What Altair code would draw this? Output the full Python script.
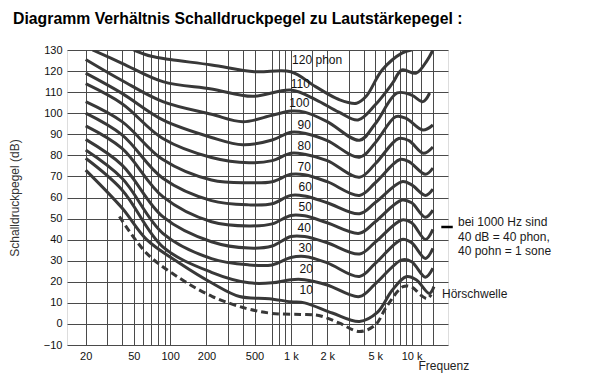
import altair as alt
import pandas as pd

# ---- data (frequency in Hz, level in dB) ----
f_120 = [50, 70, 100, 220, 500, 1000, 1600, 2500, 3500, 4200, 5700, 8300, 10000]
db_120 = [130, 127, 125.5, 122.9, 119.7, 119.7, 112.6, 106.5, 104.7, 108, 120.5, 128.5, 130]

f_110 = [22.8, 40, 87, 220, 480, 1000, 1600, 2500, 3600, 5000, 6900, 8300, 10900, 13400, 15000]
db_110 = [130, 123.7, 115, 111.5, 108, 111, 106.5, 100.5, 96.8, 104, 114, 120.5, 119, 125, 130]

f_100 = [20, 40, 87, 220, 400, 700, 1000, 1300, 2000, 3700, 5000, 7600, 10000, 12400, 14100]
db_100 = [125.5, 115.5, 105.5, 99.5, 96, 99, 101, 100.5, 96, 87.2, 95, 109.6, 108.6, 105.5, 109.6]

f_90 = [20, 40, 87, 220, 400, 700, 1000, 1300, 2000, 3700, 5000, 7400, 9000, 12400, 15000]
db_90 = [119, 109.4, 96.8, 88.5, 85, 87.3, 91, 90.5, 87, 79.1, 86, 98.4, 97.5, 92, 94.4]

f_80 = [20, 40, 87, 220, 450, 700, 1000, 1300, 2000, 3700, 5000, 7800, 9500, 12500, 15000]
db_80 = [114, 104.5, 88, 79, 76.5, 77.5, 81, 80.5, 77.5, 69.6, 76, 88, 87, 81, 84]

f_70 = [20, 40, 87, 220, 450, 700, 1000, 1300, 2000, 3700, 5000, 8000, 9500, 13000, 15000]
db_70 = [105.5, 96, 78, 68.3, 67, 67.5, 71, 70.8, 67.5, 61, 67, 78, 77, 71, 74]

f_60 = [20, 40, 87, 220, 450, 700, 1000, 1300, 2000, 3700, 5000, 8300, 10000, 13000, 15000]
db_60 = [100, 89.7, 69.1, 58.5, 56.5, 57, 61, 60.7, 57.5, 52.3, 57.6, 67.5, 66, 61, 64]

f_50 = [20, 40, 87, 220, 450, 700, 1000, 1300, 2000, 3700, 5000, 8300, 10000, 13000, 15000]
db_50 = [94, 83.3, 60.4, 48.5, 46.5, 47.5, 51.5, 51.3, 48, 43, 48.5, 58.8, 57.5, 50.6, 54]

f_40 = [20, 40, 87, 220, 450, 700, 1000, 1300, 2000, 3700, 5000, 8300, 10000, 13000, 15000]
db_40 = [87.6, 75.4, 50.9, 39, 36, 37, 41.5, 41.5, 38.5, 33.2, 38.8, 49.3, 48, 40.1, 44.9]

f_30 = [20, 40, 87, 220, 450, 700, 1000, 1300, 2000, 3700, 5000, 8300, 10000, 13000, 15000]
db_30 = [82.5, 69.1, 43, 31, 28, 28, 31.5, 32, 29, 22.5, 28.7, 40.1, 38.5, 31.1, 35.9]

f_20 = [20, 40, 87, 220, 450, 700, 1000, 1300, 2000, 3700, 5000, 8300, 10000, 13000, 15000]
db_20 = [78.6, 63.6, 36.6, 24.5, 19.5, 19.5, 21, 21, 18.5, 13, 19, 30.4, 29.5, 22.2, 26.4]

f_10 = [20, 40, 64, 120, 224, 376, 664, 1000, 1300, 2200, 3700, 5200, 6900, 9000, 10900, 14000, 15300]
db_10 = [73, 55, 40, 28.8, 19.3, 13, 12, 10.5, 10, 5.2, 1.2, 5.5, 16, 22.4, 21, 14.5, 17.7]

f_thr = [38, 64, 120, 224, 425, 700, 1200, 1700, 2500, 3700, 5000, 6200, 8500, 10000, 12000, 13500, 14500]
db_thr = [51, 33.5, 21.7, 13, 7.4, 5, 4.5, 4, 0.5, -3.6, -0.5, 8.2, 17.7, 17.5, 13.5, 12, 14]

curves = {
    "120": (f_120, db_120), "110": (f_110, db_110), "100": (f_100, db_100),
    "90": (f_90, db_90), "80": (f_80, db_80), "70": (f_70, db_70),
    "60": (f_60, db_60), "50": (f_50, db_50), "40": (f_40, db_40),
    "30": (f_30, db_30), "20": (f_20, db_20), "10": (f_10, db_10),
}

# curve labels
lab_text = ["120  phon", "110", "100", "90", "80", "70", "60", "50", "40", "30", "20", "10"]
lab_f = [1650, 1196, 1174, 1290, 1290, 1290, 1316, 1316, 1290, 1316, 1341, 1341]
lab_db = [125.3, 113.9, 104.8, 94.4, 84.4, 74.5, 65, 55.5, 45.5, 36, 26, 16.1]

# annotation on the right
note_text = ["bei 1000 Hz sind", "40 dB = 40 phon,", "40 pohn = 1 sone"]
note_f = [24200, 24200, 24200]
note_db = [48.4, 41.3, 34.4]
mark_f = [17600, 21900]
mark_db = 46
hs_text = ["Hörschwelle"]
hs_f = [17830]
hs_db = [14.2]

grid_f = [20, 30, 40, 50, 60, 70, 80, 90, 100, 200, 300, 400, 500, 700, 800, 900,
          1000, 1500, 2000, 3000, 4000, 5000, 6000, 7000, 8000, 9000, 10000, 12000, 15000]
y_ticks = list(range(-10, 131, 10))

# ---- build tables ----
rows = []
for name, (fs, ds) in curves.items():
    for i, (f, d) in enumerate(zip(fs, ds)):
        rows.append({"curve": name, "i": i, "f": f, "db": d})
df_lines = pd.DataFrame(rows)
df_thr = pd.DataFrame({"curve": "thr", "i": range(len(f_thr)), "f": f_thr, "db": db_thr})
df_lab = pd.DataFrame({"t": lab_text, "f": lab_f, "db": lab_db})
df_note = pd.DataFrame({"t": note_text, "f": note_f, "db": note_db})
df_hs = pd.DataFrame({"t": hs_text, "f": hs_f, "db": hs_db})
df_mark = pd.DataFrame({"f": [mark_f[0]], "f2": [mark_f[1]], "db": [mark_db]})

FONT = "Liberation Sans"
label_expr = ("datum.value == 1000 ? '1 k' : datum.value == 2000 ? '2 k' : "
              "datum.value == 5000 ? '5 k' : datum.value == 10000 ? '10 k' : "
              "indexof([20, 50, 100, 200, 500], datum.value) >= 0 ? toString(datum.value) : ''")

xscale = alt.Scale(type="log", domain=[14, 20000], nice=False)
yscale = alt.Scale(domain=[-10, 130], nice=False)

X = alt.X("f:Q", scale=xscale, axis=alt.Axis(
    values=grid_f, tickCount=100, labelExpr=label_expr, title="Frequenz", grid=True,
    gridColor="#4a4a4a", gridWidth=1, gridOpacity=1, domain=False, ticks=False,
    labelPadding=5, labelFontSize=11, labelFont=FONT, labelColor="#111",
    labelOverlap=False, labelFlush=False, labelBound=False,
    titleFont=FONT, titleFontSize=12, titleFontWeight="normal", titleColor="#222",
    titleX=351, titleY=20, titleAlign="left", titleBaseline="middle"))
Y = alt.Y("db:Q", scale=yscale, axis=alt.Axis(
    values=y_ticks, tickCount=100, title="Schalldruckpegel (dB)", grid=True,
    gridColor="#4a4a4a", gridWidth=1, gridOpacity=1, domain=False, ticks=False,
    labelPadding=5, labelFontSize=11, labelFont=FONT, labelColor="#111",
    labelOverlap=False, labelFlush=False, labelBound=False,
    titleFont=FONT, titleFontSize=12, titleFontWeight="normal", titleColor="#333",
    titlePadding=22))

solid = alt.Chart(df_lines).mark_line(
    interpolate="catmull-rom", color="#383838", strokeWidth=3, clip=True
).encode(x=X, y=Y, detail="curve:N", order="i:Q")

dashed = alt.Chart(df_thr).mark_line(
    interpolate="catmull-rom", color="#383838", strokeWidth=3, strokeDash=[7, 4], clip=True
).encode(x="f:Q", y="db:Q", order="i:Q")

labels = alt.Chart(df_lab).mark_text(
    font=FONT, fontSize=12, color="#111", align="center", baseline="middle"
).encode(x="f:Q", y="db:Q", text="t:N")

notes = alt.Chart(df_note).mark_text(
    font=FONT, fontSize=12, color="#1a1a1a", align="left", baseline="middle", clip=False
).encode(x="f:Q", y="db:Q", text="t:N")

hs = alt.Chart(df_hs).mark_text(
    font=FONT, fontSize=12, color="#1a1a1a", align="left", baseline="middle", clip=False
).encode(x="f:Q", y="db:Q", text="t:N")

tick = alt.Chart(df_mark).mark_rule(color="black", strokeWidth=2.5, clip=False).encode(
    x="f:Q", x2="f2:Q", y="db:Q")

chart = alt.layer(solid, dashed, labels, notes, hs, tick).properties(
    width=381, height=295,
    autosize=alt.AutoSizeParams(type="none"),
    padding={"left": 59, "top": 42, "right": 130, "bottom": 30},
    title=alt.TitleParams(
        "Diagramm Verhältnis Schalldruckpegel zu Lautstärkepegel :",
        anchor="start", frame="group", dx=-54, offset=4, fontSize=15.8,
        font=FONT, fontWeight="bold", color="black", baseline="alphabetic"),
).configure_view(stroke="black", strokeWidth=2).configure(background="white")

chart.save("out.html", embed_options={"renderer": "svg", "actions": False})
